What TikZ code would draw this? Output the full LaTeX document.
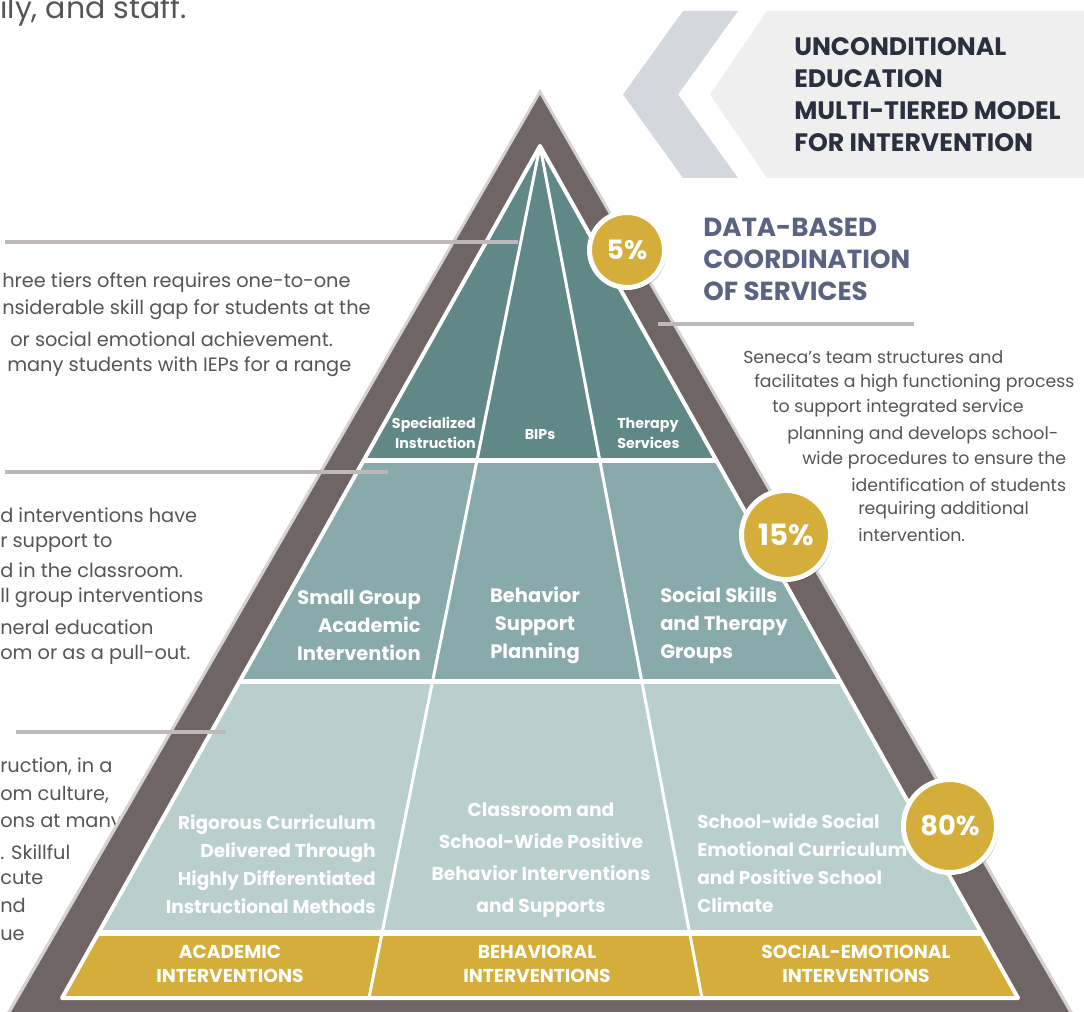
\documentclass[tikz,border=0pt]{standalone}
\usepackage{fontspec}
\setmainfont{Poppins}
\usetikzlibrary{shadows}
\definecolor{brownT}{HTML}{6E6564}
\definecolor{edgeShade}{HTML}{D6D2D2}
\definecolor{tealA}{HTML}{5F8886}
\definecolor{tealB}{HTML}{89AAAA}
\definecolor{tealC}{HTML}{B9CFCE}
\definecolor{goldC}{HTML}{D4AD3B}
\definecolor{hdrBox}{HTML}{EFEFEF}
\definecolor{chev}{HTML}{D3D7DE}
\definecolor{navy}{HTML}{2B3041}
\definecolor{slate}{HTML}{5A6482}
\definecolor{ruleC}{HTML}{BFB8B8}
\definecolor{bodyT}{HTML}{555555}
\begin{document}
\begin{tikzpicture}[x=0.75pt,y=-0.75pt,
  body/.style={font=\fontsize{14.5}{17}\selectfont, text=bodyT, anchor=west, inner sep=0pt},
  rbody/.style={font=\fontsize{13}{15}\selectfont, text=bodyT, anchor=west, inner sep=0pt},
  hdr/.style={font=\bfseries\fontsize{18.9}{24}\selectfont, text=navy, align=left, inner sep=0pt, anchor=west},
  dbc/.style={font=\bfseries\fontsize{19.6}{24}\selectfont, text=slate, align=left, inner sep=0pt, anchor=west},
  tone/.style={font=\bfseries\fontsize{10.7}{15}\selectfont, text=white, inner sep=0pt},
  ttwo/.style={font=\bfseries\fontsize{14.6}{21}\selectfont, text=white, inner sep=0pt},
  tthree/.style={font=\bfseries\fontsize{13.9}{21}\selectfont, text=white, inner sep=0pt},
  tthreec/.style={font=\bfseries\fontsize{14}{24}\selectfont, text=white, inner sep=0pt, align=center},
  band/.style={font=\bfseries\fontsize{14}{18}\selectfont, text=white, inner sep=0pt, align=center},
  pct/.style={circle, fill=goldC, draw=white, text=white, inner sep=0pt,
     drop shadow={shadow xshift=1.5pt, shadow yshift=-2pt, opacity=0.25, fill=black}},
  leader/.style={draw=ruleC, line width=3pt},
]
\useasboundingbox (0,0) rectangle (1084,1012);
\clip (0,0) rectangle (1084,1012);
\fill[white] (0,0) rectangle (1084,1012);

% header
\fill[chev] (683,11) -- (738,11) -- (678,94.5) -- (738,178) -- (683,178) -- (623,94.5) -- cycle;
\fill[hdrBox] (767,11) -- (1084,11) -- (1084,178) -- (767,178) -- (710,94.5) -- cycle;
\node[hdr] (title) at (794,95) {UNCONDITIONAL\\EDUCATION\\MULTI-TIERED MODEL\\FOR INTERVENTION};
\node[dbc] (dbcs) at (703,259) {DATA-BASED\\COORDINATION\\OF SERVICES};

% top-left text
\node[font=\fontsize{22.5}{26}\selectfont, text=bodyT, anchor=base west, inner sep=0pt] (staff) at (0,19) {ily, and staff.};

% left block 1
\node[body] (a1) at (2,283) {hree tiers often requires one-to-one};
\node[body] (a2) at (2,310) {nsiderable skill gap for students at the};
\node[body] (a3) at (10,339) {or social emotional achievement.};
\node[body] (a4) at (7,367) {many students with IEPs for a range};
% left block 2
\node[body] (b1) at (0,515) {d interventions have};
\node[body] (b2) at (0,543) {r support to};
\node[body] (b3) at (0,570) {d in the classroom.};
\node[body] (b4) at (0,598) {ll group interventions};
\node[body] (b5) at (0,627) {neral education};
\node[body] (b6) at (0,655) {om or as a pull-out.};
% left block 3
\node[body] (c1) at (0,767) {ruction, in a};
\node[body] (c2) at (0,795) {om culture,};
\node[body] (c3) at (0,823) {ons at many};
\node[body] (c4) at (0,852) {. Skillful};
\node[body] (c5) at (0,878) {cute};
\node[body] (c6) at (0,905) {nd};
\node[body] (c7) at (0,935) {ue};
% right block
\node[rbody] (r1) at (743,357) {Seneca’s team structures and};
\node[rbody] (r2) at (754,383) {facilitates a high functioning process};
\node[rbody] (r3) at (772,408) {to support integrated service};
\node[rbody] (r4) at (787,435) {planning and develops school-};
\node[rbody] (r5) at (802,460) {wide procedures to ensure the};
\node[rbody] (r6) at (851,485) {identification of students};
\node[rbody] (r7) at (858,510) {requiring additional};
\node[rbody] (r8) at (858,535) {intervention.};

% pyramid frame
\fill[edgeShade] (540,89) -- (1089,1040) -- (-9,1040) -- cycle;
\fill[brownT] (540,95) -- (1085,1040) -- (-5,1040) -- cycle;

% inner pyramid
\fill[white] (540,146) -- (1018,998) -- (62,998) -- cycle;
\begin{scope}
\clip (540,146) -- (1018,998) -- (62,998) -- cycle;
\fill[tealA] (0,140) rectangle (1084,458);
\fill[tealB] (0,463) rectangle (1084,678.5);
\fill[tealC] (0,684) rectangle (1084,930);
\fill[goldC] (0,935.5) rectangle (1084,1000);
\end{scope}
\coordinate (apex) at (540,146);
\coordinate (dl) at (369,998);
\coordinate (dr) at (702,998);
\draw[white, line width=2.25pt] (apex) -- (dl);
\draw[white, line width=2.25pt] (apex) -- (dr);
\draw[white, line width=3pt, line join=round] (apex) -- (1018,998) -- (62,998) -- cycle;

% leader lines
\coordinate (l1a) at (5,242); \coordinate (l1b) at (518,242);
\coordinate (l2a) at (5,472); \coordinate (l2b) at (388,472);
\coordinate (l3a) at (16,732); \coordinate (l3b) at (226,732);
\coordinate (l4a) at (658,324); \coordinate (l4b) at (914,324);
\draw[leader] (l1a) -- (l1b);
\draw[leader] (l2a) -- (l2b);
\draw[leader] (l3a) -- (l3b);
\draw[leader] (l4a) -- (l4b);

% tier 1 text
\node[tone, align=right, anchor=east] (spec) at (476,433) {Specialized\\Instruction};
\node[tone] (bips) at (540,435) {BIPs};
\node[tone, align=left, anchor=west] (ther) at (617,433) {Therapy\\Services};
% tier 2 text
\node[ttwo, align=right, anchor=east] (sga) at (421,625) {Small Group\\Academic\\Intervention};
\node[ttwo, align=center] (bsp) at (535,625) {Behavior\\Support\\Planning};
\node[ttwo, align=left, anchor=west] (sst) at (660,625) {Social Skills\\and Therapy\\Groups};
% tier 3 text
\node[tthree, align=right, anchor=east] (rig) at (376,864) {Rigorous Curriculum\\Delivered Through\\Highly Differentiated\\Instructional Methods};
\node[tthreec] (cls) at (541,860) {Classroom and\\School-Wide Positive\\Behavior Interventions\\and Supports};
\node[tthree, align=left, anchor=west] (swsc) at (697,863) {School-wide Social\\Emotional Curriculum\\and Positive School\\Climate};
% band text
\node[band] (acad) at (230,964) {ACADEMIC\\INTERVENTIONS};
\node[band] (behv) at (537,964) {BEHAVIORAL\\INTERVENTIONS};
\node[band] (soem) at (856,964) {SOCIAL-EMOTIONAL\\INTERVENTIONS};

% percentage circles
\node[pct, minimum size=56.25pt, line width=3.75pt, font=\bfseries\fontsize{20}{22}\selectfont] (p5) at (627,250) {5\%};
\node[pct, minimum size=66.75pt, line width=3.75pt, font=\bfseries\fontsize{22}{24}\selectfont] (p15) at (786,535) {15\%};
\node[pct, minimum size=69.75pt, line width=3.75pt, font=\bfseries\fontsize{20.5}{24}\selectfont] (p80) at (950,826) {80\%};
\end{tikzpicture}
\end{document}
